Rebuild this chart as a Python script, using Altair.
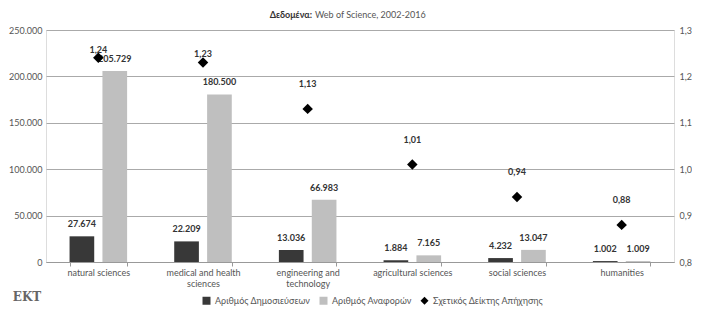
import altair as alt
import pandas as pd

categories = ["natural sciences", "medical and health sciences", "engineering and technology",
              "agricultural sciences", "social sciences", "humanities"]
publications = [27674, 22209, 13036, 1884, 4232, 1002]
citations = [205729, 180500, 66983, 7165, 13047, 1009]
impact = [1.24, 1.23, 1.13, 1.01, 0.94, 0.88]

S_PUB = "Αριθμός Δημοσιεύσεων"
S_CIT = "Αριθμός Αναφορών"
S_IDX = "Σχετικός Δείκτης Απήχησης"
SERIES = [S_PUB, S_CIT, S_IDX]

def gr_int(v):
    return f"{v:,}".replace(",", ".")

rows = []
for c, p, ci in zip(categories, publications, citations):
    rows.append({"cat": c, "series": S_PUB, "value": p, "label": gr_int(p)})
    rows.append({"cat": c, "series": S_CIT, "value": ci, "label": gr_int(ci)})
bars_df = pd.DataFrame(rows)
idx_df = pd.DataFrame({"cat": categories, "idx": impact, "series": [S_IDX] * len(categories),
                       "label": [f"{v:.2f}".replace(".", ",") for v in impact]})

FONT = "Lato"
LBL = "#555555"
FS = 9

legend_kw = dict(title=None, orient="none", legendX=156, legendY=266,
                 direction="horizontal", labelFontSize=FS, labelColor=LBL,
                 labelFont=FONT, symbolSize=64, columnPadding=8, symbolStrokeWidth=0)

color_enc = alt.Color("series:N", scale=alt.Scale(domain=SERIES, range=["#383838", "#bfbfbf", "#000000"]),
                      legend=alt.Legend(**legend_kw))
shape_enc = alt.Shape("series:N", scale=alt.Scale(domain=SERIES, range=["square", "square", "diamond"]),
                      legend=alt.Legend(**legend_kw))

x_axis = alt.Axis(labelAngle=0, labelFontSize=FS, labelColor=LBL, labelFont=FONT,
                  labelExpr="datum.value == 'medical and health sciences' ? ['medical and health', 'sciences'] : datum.value == 'engineering and technology' ? ['engineering and', 'technology'] : datum.value",
                  labelLineHeight=11, tickBand="extent", tickSize=4, tickColor="#999999",
                  domainColor="#999999", labelPadding=2, grid=False)
x_scale = alt.Scale(paddingInner=0.45, paddingOuter=0.225)
x_enc = alt.X("cat:N", sort=categories, title=None, scale=x_scale, axis=x_axis)
xo = alt.XOffset("series:N", sort=[S_PUB, S_CIT], scale=alt.Scale(paddingInner=0.25, paddingOuter=0))
y_left = alt.Y("value:Q", title=None,
               scale=alt.Scale(domain=[0, 250000], nice=False),
               axis=alt.Axis(orient="left", values=[0, 50000, 100000, 150000, 200000, 250000],
                             labelExpr="replace(format(datum.value, ','), ',', '.')",
                             labelFontSize=FS, labelColor=LBL, labelFont=FONT, ticks=False,
                             domain=False, labelPadding=4, gridColor="#aaaaaa", gridWidth=1))

base = alt.Chart(bars_df)
bars = base.mark_bar().encode(x=x_enc, xOffset=xo, y=y_left, color=color_enc)
bar_labels = base.mark_text(dy=-12, fontSize=FS, fontWeight="bold", color="#333333", font=FONT).encode(
    x=alt.X("cat:N", sort=categories), xOffset=xo, y=alt.Y("value:Q"), text="label:N")

sub1 = alt.Chart(pd.DataFrame({"t": ["Δεδομένα:"]})).mark_text(
    align="right", baseline="middle", fontSize=FS, fontWeight="bold", color="#333333", font=FONT
).encode(x=alt.value(266), y=alt.value(-15), text="t:N")
sub2 = alt.Chart(pd.DataFrame({"t": ["Web of Science, 2002-2016"]})).mark_text(
    align="left", baseline="middle", fontSize=FS, color="#555555", font=FONT
).encode(x=alt.value(269), y=alt.value(-15), text="t:N")
logo = alt.Chart(pd.DataFrame({"t": ["ΕΚΤ"]})).mark_text(
    align="center", baseline="middle", fontSize=12, color="#666666", font="DejaVu Serif", fontWeight="bold"
).encode(x=alt.value(-19), y=alt.value(267), text="t:N")

left = alt.layer(bars, bar_labels, sub1, sub2, logo)

y_right = alt.Y("idx:Q", title=None, scale=alt.Scale(domain=[0.8, 1.3], nice=False),
                axis=alt.Axis(orient="right", values=[0.8, 0.9, 1.0, 1.1, 1.2, 1.3],
                              labelExpr="replace(format(datum.value, '.1f'), '.', ',')",
                              labelFontSize=FS, labelColor=LBL, labelFont=FONT, ticks=False,
                              domain=False, grid=False, labelPadding=5))
ibase = alt.Chart(idx_df)
x_plain = alt.X("cat:N", sort=categories)
diamonds = ibase.mark_point(filled=True, size=110, opacity=1).encode(
    x=x_plain, y=y_right, color=color_enc, shape=shape_enc)
dl_hi = ibase.transform_filter("datum.idx > 1.2").mark_text(
    dy=-8, fontSize=FS, fontWeight="bold", color="#333333", font=FONT).encode(
    x=x_plain, y=alt.Y("idx:Q"), text="label:N")
dl_lo = ibase.transform_filter("datum.idx <= 1.2").mark_text(
    dy=-25, fontSize=FS, fontWeight="bold", color="#333333", font=FONT).encode(
    x=x_plain, y=alt.Y("idx:Q"), text="label:N")
right = alt.layer(diamonds, dl_hi, dl_lo)

chart = alt.layer(left, right).resolve_scale(y="independent").properties(
    width=628, height=232, padding={"left": 0, "right": 0, "top": 3, "bottom": 0}
).configure_view(stroke=None).configure(background="white")

chart.save("out.html", embed_options={"renderer": "svg", "actions": False})
